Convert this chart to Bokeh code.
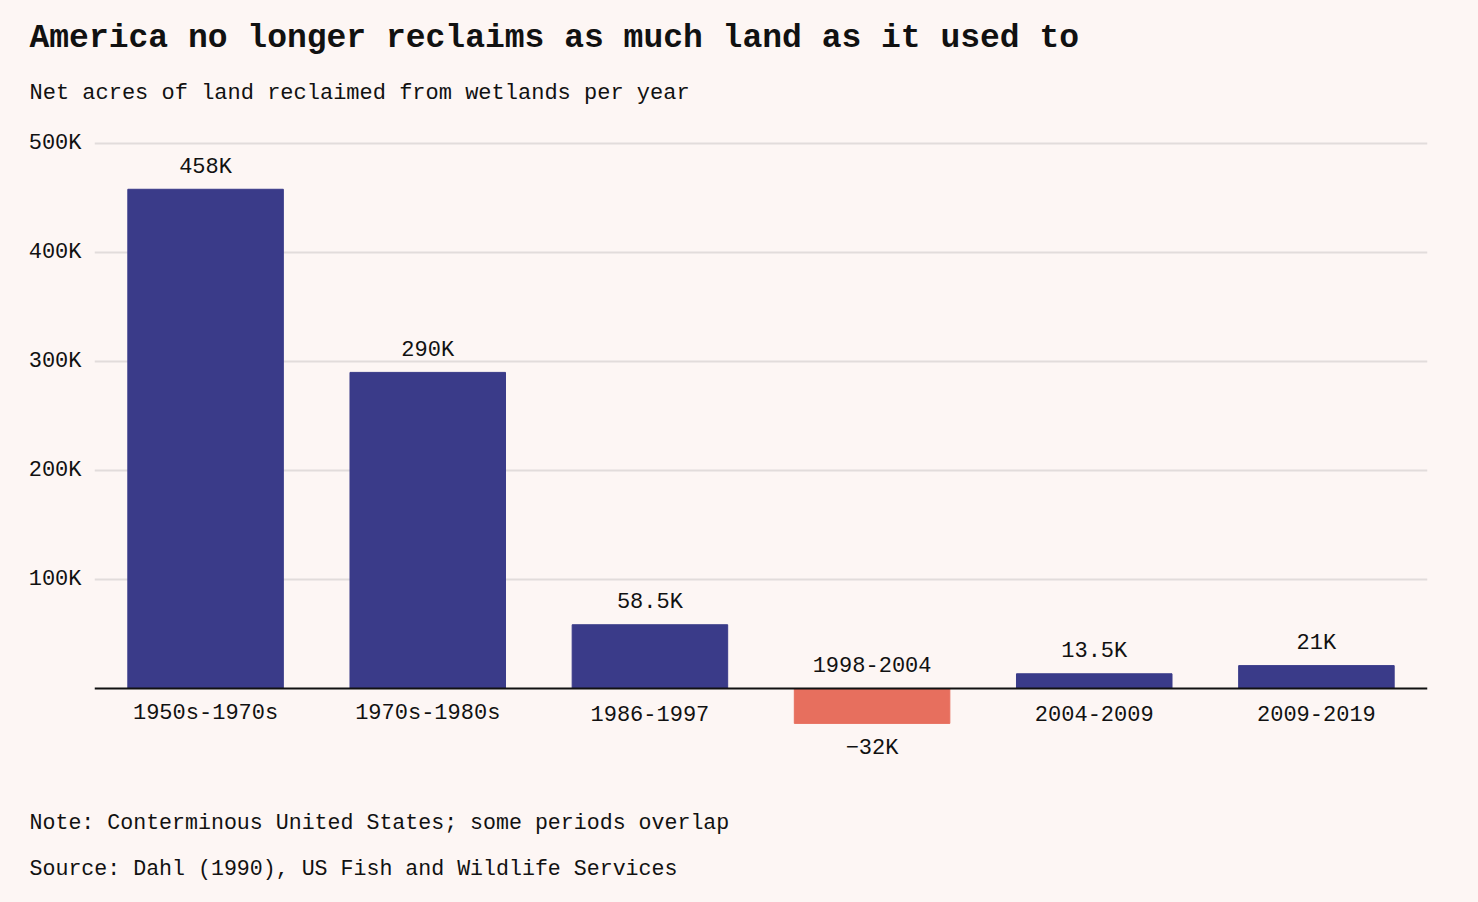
from bokeh.plotting import figure
from bokeh.layouts import column
from bokeh.models import (Range1d, FixedTicker, Span, ColumnDataSource, LabelSet,
                          GlobalInlineStyleSheet)
from bokeh.core.properties import value
from bokeh.embed import file_html
from bokeh.resources import INLINE

# ---- data ----
periods = ["1950s-1970s", "1970s-1980s", "1986-1997", "1998-2004", "2004-2009", "2009-2019"]
acres = [458000, 290000, 58500, -32000, 13500, 21000]
value_labels = ["458K", "290K", "58.5K", "\u221232K", "13.5K", "21K"]
y_ticks = [100000, 200000, 300000, 400000, 500000]
y_tick_labels = ["100K", "200K", "300K", "400K", "500K"]
title_text = "America no longer reclaims as much land as it used to"
subtitle_text = "Net acres of land reclaimed from wetlands per year"
note_text = "Note: Conterminous United States; some periods overlap"
source_text = "Source: Dahl (1990), US Fish and Wildlife Services"

# ---- style ----
BG = "#fdf6f4"
BLUE = "#3a3b89"
RED = "#e76f5e"
FONT = "Liberation Mono"
TXT = "#111111"
W = 1478
HEAD_H, MAIN_H, FOOT_H = 120, 670, 112


def blank(h):
    f = figure(width=W, height=h, output_backend="svg", toolbar_location=None,
               x_range=Range1d(0, W), y_range=Range1d(h, 0),
               x_axis_type=None, y_axis_type=None,
               min_border_left=0, min_border_right=0, min_border_top=0,
               min_border_bottom=0, frame_align=False)
    f.background_fill_color = BG
    f.border_fill_color = BG
    f.outline_line_color = None
    f.xgrid.visible = False
    f.ygrid.visible = False
    return f


# ---- header ----
head = blank(HEAD_H)
head.text(x=[29], y=[38], text=[title_text], text_font=value(FONT),
          text_font_size="33px", text_font_style="bold", text_color=TXT,
          text_align="left", text_baseline="middle")
head.text(x=[29], y=[93], text=[subtitle_text], text_font=value(FONT),
          text_font_size="22px", text_color=TXT,
          text_align="left", text_baseline="middle")

# ---- main chart ----
FL, FR = 94, W - 1427
FT, FB = 10, 20                      # frame at page y 130 .. 770
PPU = 545 / 500000.0                 # pixels per acre (500K grid at y 143, 0 at y 688)
Y1 = 500000 + (143 - 130) / PPU
Y0 = -(770 - 688) / PPU

p = figure(width=W, height=MAIN_H, output_backend="svg", toolbar_location=None,
           x_range=Range1d(0, len(periods)), y_range=Range1d(Y0, Y1),
           min_border_left=FL, min_border_right=FR, min_border_top=FT,
           min_border_bottom=FB, frame_align=False)
p.background_fill_color = BG
p.border_fill_color = BG
p.outline_line_color = None

xs = [i + 0.5 for i in range(len(periods))]
colors = [BLUE if v >= 0 else RED for v in acres]
pos = [v >= 0 for v in acres]
src = ColumnDataSource(dict(
    x=xs, top=acres, color=colors, period=periods, vlab=value_labels,
    zero=[0] * len(acres),
    voff=[22 if s else -25 for s in pos], coff=[-25 if s else 24 for s in pos],
))

p.vbar(x="x", top="top", bottom=0, width=0.7, color="color", source=src)

p.xaxis.visible = False
p.xgrid.visible = False
p.yaxis.ticker = FixedTicker(ticks=y_ticks)
p.yaxis.major_label_overrides = {t: l for t, l in zip(y_ticks, y_tick_labels)}
p.yaxis.axis_line_color = None
p.yaxis.major_tick_line_color = None
p.yaxis.minor_tick_line_color = None
p.yaxis.major_label_standoff = 7
p.yaxis.major_label_text_font = FONT
p.yaxis.major_label_text_font_size = "22px"
p.yaxis.major_label_text_color = TXT
p.ygrid.ticker = FixedTicker(ticks=y_ticks)
p.ygrid.grid_line_color = "#e2dcdb"
p.ygrid.grid_line_width = 2

p.add_layout(Span(location=0, dimension="width", line_color="#111111", line_width=2))

common = dict(text_font=value(FONT), text_font_size="22px", text_color=TXT,
              text_align="center", text_baseline="middle", source=src)
p.add_layout(LabelSet(x="x", y="top", text="vlab", y_offset="voff", **common))
p.add_layout(LabelSet(x="x", y="zero", text="period", y_offset="coff", **common))

# ---- footer ----
foot = blank(FOOT_H)
foot.text(x=[29, 29], y=[822 - 790, 868 - 790], text=[note_text, source_text],
          text_font=value(FONT), text_font_size="21.6px", text_color=TXT,
          text_align="left", text_baseline="middle")

layout = column(head, p, foot, spacing=0)
layout.stylesheets = [GlobalInlineStyleSheet(css=f"html, body {{ background-color: {BG}; }}")]

open("out.html", "w").write(file_html(layout, INLINE))
